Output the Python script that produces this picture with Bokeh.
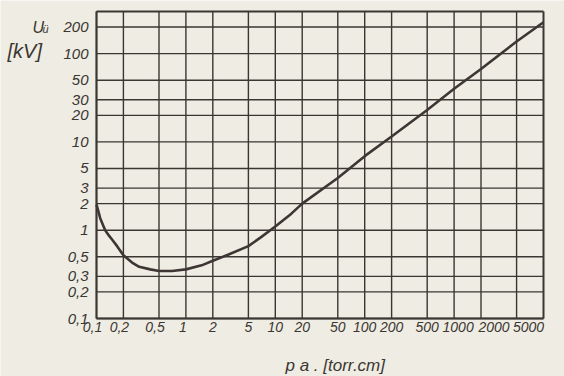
import math
from bokeh.plotting import figure
from bokeh.models import Range1d, Label, ColumnDataSource
from bokeh.core.properties import value
from bokeh.embed import file_html
from bokeh.resources import INLINE

# Paschen curve data
pd_values = [0.1, 0.105, 0.11, 0.125, 0.14, 0.15, 0.17, 0.2, 0.25, 0.3, 0.4, 0.5, 0.7, 1, 1.5, 2, 3, 5, 7, 10, 15, 20, 50, 100, 200, 500, 1000, 2000, 5000, 10000]
u_values = [1.95, 1.64, 1.37, 1.0, 0.85, 0.78, 0.66, 0.52, 0.43, 0.385, 0.36, 0.345, 0.345, 0.36, 0.40, 0.45, 0.53, 0.66, 0.84, 1.1, 1.53, 2.0, 3.9, 6.9, 11.5, 23, 40, 67, 137, 227]

x_ticks = [0.1, 0.2, 0.5, 1, 2, 5, 10, 20, 50, 100, 200, 500, 1000, 2000, 5000]
x_tick_labels = ["0,1", "0,2", "0,5", "1", "2", "5", "10", "20", "50", "100", "200", "500", "1000", "2000", "5000"]

y_ticks = [0.1, 0.2, 0.3, 0.5, 1, 2, 3, 5, 10, 20, 30, 50, 100, 200]
y_tick_labels = ["0,1", "0,2", "0,3", "0,5", "1", "2", "3", "5", "10", "20", "30", "50", "100", "200"]

# axis limits of the chart frame
X_MIN, X_MAX = 0.1, 10000
Y_MIN, Y_MAX = 0.1, 300

# layout (pixels): canvas size and where the chart frame sits in it
W, H = 564, 376
FL, FR, FT, FB = 96, 543, 11, 318
# in the reference some x labels sit off-centre from their lines (pixel shift)
X_LABEL_SHIFT = {0.1: -4, 0.2: -4, 0.5: -4, 1: -3, 1000: 4, 2000: 13, 5000: 12}

BG = "#efece3"
INK = "#3a3632"
FONT = "Liberation Sans"

# ranges chosen so that the drawing area fills the whole canvas while the
# chart frame lands at FL..FR / FT..FB
lx0, lx1 = math.log10(X_MIN), math.log10(X_MAX)
ly0, ly1 = math.log10(Y_MIN), math.log10(Y_MAX)
ppx = (FR - FL) / (lx1 - lx0)
ppy = (FB - FT) / (ly1 - ly0)
x_range = Range1d(10 ** (lx0 - FL / ppx), 10 ** (lx1 + (W - FR) / ppx))
y_range = Range1d(10 ** (ly0 - (H - FB) / ppy), 10 ** (ly1 + FT / ppy))

p = figure(width=W, height=H, x_axis_type="log", y_axis_type="log",
           x_range=x_range, y_range=y_range,
           output_backend="svg", toolbar_location=None,
           min_border=0)
p.axis.visible = False
p.grid.visible = False
p.outline_line_color = None
p.background_fill_color = BG
p.border_fill_color = BG

# grid lines at the ticks
p.segment(x0=x_ticks, y0=[Y_MIN] * len(x_ticks), x1=x_ticks, y1=[Y_MAX] * len(x_ticks),
          line_color=INK, line_width=1.4)
p.segment(x0=[X_MIN] * len(y_ticks), y0=y_ticks, x1=[X_MAX] * len(y_ticks), y1=y_ticks,
          line_color=INK, line_width=1.4)
# frame
p.segment(x0=[X_MIN, X_MAX, X_MIN, X_MIN], y0=[Y_MIN, Y_MIN, Y_MIN, Y_MAX],
          x1=[X_MIN, X_MAX, X_MAX, X_MAX], y1=[Y_MAX, Y_MAX, Y_MIN, Y_MAX],
          line_color=INK, line_width=2)

# curve
p.line(pd_values, u_values, line_color="#3e3634", line_width=2.6)

common = dict(text_font=value(FONT), text_font_style="italic", text_color=INK)

# x tick labels
xsrc = ColumnDataSource(dict(
    x=x_ticks,
    y=[Y_MIN] * len(x_ticks),
    text=x_tick_labels,
    dx=[X_LABEL_SHIFT.get(t, 0) for t in x_ticks],
))
p.text(x="x", y="y", text="text", x_offset="dx", y_offset=3, source=xsrc,
       text_align="center", text_baseline="top", text_font_size="14px", **common)

# y tick labels
p.text(x=[X_MIN] * len(y_ticks), y=y_ticks, text=y_tick_labels, x_offset=-8,
       text_align="right", text_baseline="middle", text_font_size="15px", **common)

# axis titles
p.add_layout(Label(x=32, y=27, x_units="canvas", y_units="canvas", text="U",
                   text_font=FONT, text_font_style="italic", text_font_size="16px",
                   text_color=INK, text_baseline="alphabetic"))
p.add_layout(Label(x=42, y=28, x_units="canvas", y_units="canvas", text="ü",
                   text_font=FONT, text_font_style="italic", text_font_size="11px",
                   text_color=INK, text_baseline="alphabetic"))
p.add_layout(Label(x=7, y=50, x_units="canvas", y_units="canvas", text="[kV]",
                   text_font=FONT, text_font_style="italic", text_font_size="20px",
                   text_color=INK, text_baseline="alphabetic"))
p.add_layout(Label(x=285, y=365, x_units="canvas", y_units="canvas", text="p a . [torr.cm]",
                   text_font=FONT, text_font_style="italic", text_font_size="17px",
                   text_color=INK, text_baseline="alphabetic"))

open("out.html", "w").write(file_html(p, INLINE))
